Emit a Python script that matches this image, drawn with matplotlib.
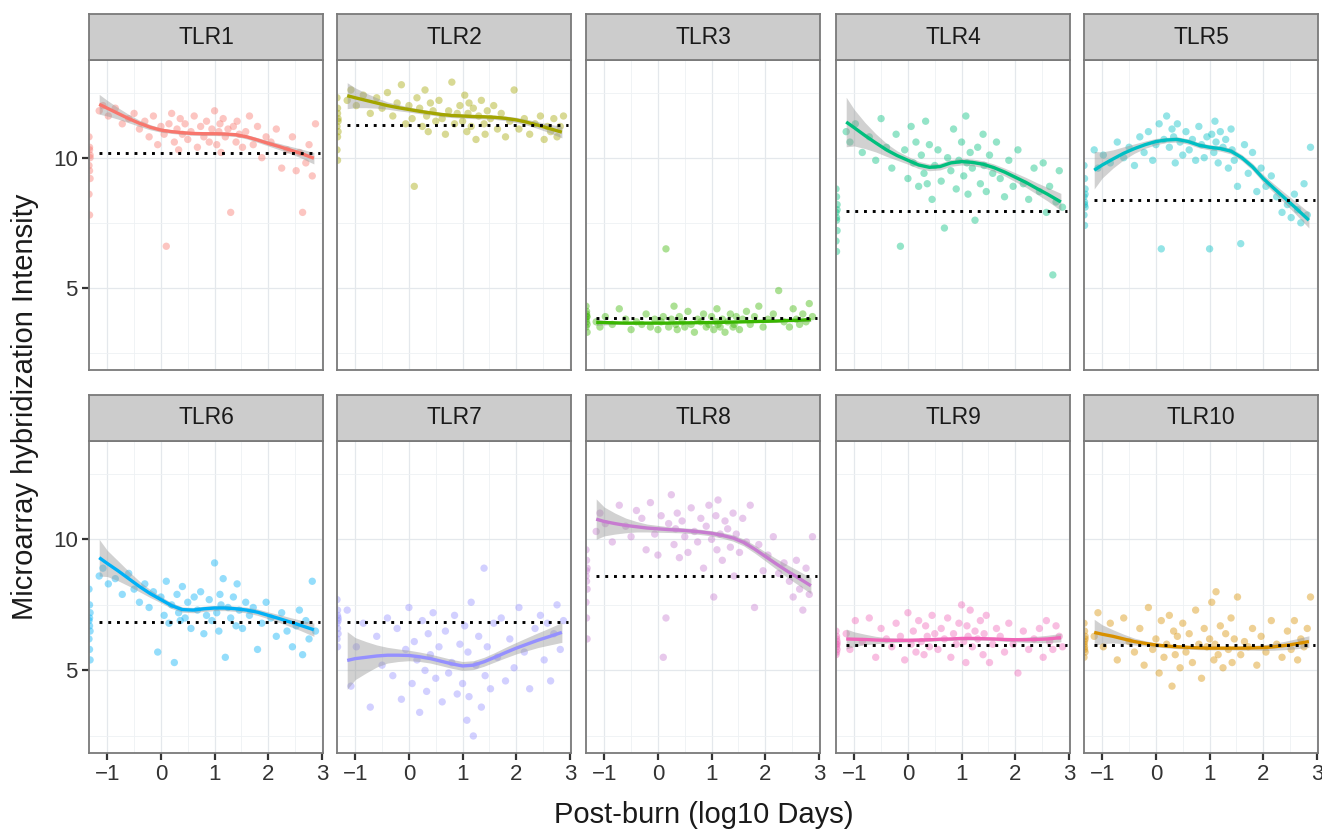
import matplotlib.pyplot as plt
import numpy as np

plt.rcParams["font.family"] = ["Liberation Sans", "DejaVu Sans"]

GENES = ["TLR1", "TLR2", "TLR3", "TLR4", "TLR5",
         "TLR6", "TLR7", "TLR8", "TLR9", "TLR10"]
COLORS = ["#F8766D", "#A3A500", "#39B600", "#00BF7D", "#00BFC4",
          "#00B0F6", "#9590FF", "#C77CD0", "#F066B8", "#D89000"]

# post-burn sample times (log10 days), shared by all genes
SAMPLE_X = [-1.15, -1.08, -0.98, -0.85, -0.72, -0.6, -0.5, -0.4,
            -0.3, -0.22, -0.14, -0.06, 0.0, 0.06, 0.1, 0.15,
            0.2, 0.25, 0.3, 0.33, 0.36, 0.4, 0.45, 0.5,
            0.56, 0.62, 0.68, 0.74, 0.8, 0.85, 0.9, 0.95,
            1.0, 1.04, 1.08, 1.1, 1.12, 1.16, 1.2, 1.25,
            1.3, 1.35, 1.4, 1.42, 1.46, 1.52, 1.58, 1.65,
            1.72, 1.8, 1.88, 1.96, 2.05, 2.15, 2.25, 2.35,
            2.45, 2.52, 2.58, 2.64, 2.7, 2.76, 2.82, 2.88]

TLR1_Y = [11.8, 12.0, 11.6, 11.9, 11.3, 11.5, 11.7, 11.1,
          11.4, 10.8, 11.6, 10.5, 11.2, 10.9, 6.6, 11.3,
          11.7, 10.6, 11.1, 10.3, 11.5, 10.9, 11.3, 10.7,
          11.0, 11.6, 10.4, 11.2, 10.8, 11.4, 10.6, 11.1,
          11.8, 10.5, 11.0, 11.3, 10.2, 11.5, 10.8, 11.1,
          7.9, 11.2, 10.6, 11.4, 10.9, 10.4, 11.0, 11.6,
          10.5, 11.2, 10.0, 10.8, 10.6, 11.1, 9.6, 10.3,
          10.8, 9.5, 10.2, 7.9, 9.8, 10.5, 9.3, 11.3]
TLR2_Y = [12.2, 12.6, 12.0, 12.4, 11.7, 12.3, 11.9, 12.5,
          11.6, 12.1, 12.8, 11.3, 12.0, 11.5, 8.9, 12.3,
          11.9, 11.2, 12.6, 11.6, 11.0, 12.1, 11.8, 11.4,
          12.2, 11.5, 10.9, 11.8, 12.9, 11.3, 11.7, 12.0,
          11.4, 12.4, 11.0, 11.7, 12.1, 11.2, 11.9, 10.7,
          11.6, 12.2, 11.3, 10.9, 11.8, 11.5, 12.0, 11.1,
          11.7, 10.8, 11.4, 12.6, 11.1, 11.5, 10.9, 11.3,
          11.6, 10.7, 11.2, 11.0, 11.5, 10.8, 11.2, 11.6]
TLR3_Y = [3.7, 3.5, 3.9, 3.6, 4.2, 3.8, 3.4, 3.7,
          3.6, 4.0, 3.5, 3.8, 3.4, 3.7, 3.9, 6.5,
          3.5, 3.8, 4.3, 3.6, 3.4, 3.9, 3.7, 3.5,
          4.1, 3.6, 3.3, 3.8, 3.7, 4.0, 3.5, 3.6,
          3.9, 3.4, 3.7, 4.2, 3.6, 3.5, 3.8, 3.3,
          3.7, 4.0, 3.5, 3.6, 3.9, 3.4, 3.8, 4.1,
          3.6, 3.9, 4.3, 3.5, 3.8, 4.0, 4.9, 3.7,
          3.5, 4.2, 3.8, 3.6, 4.0, 3.7, 4.4, 3.9]
TLR4_Y = [11.0, 10.6, 11.3, 10.2, 10.8, 9.9, 11.5, 10.4,
          9.6, 10.9, 6.6, 10.3, 9.2, 11.2, 9.8, 10.6,
          8.9, 10.1, 9.4, 11.4, 9.0, 10.5, 8.4, 9.7,
          10.3, 9.1, 7.3, 10.0, 9.5, 11.1, 8.8, 9.9,
          10.6, 9.3, 11.6, 9.8, 8.6, 10.2, 9.6, 7.6,
          10.4, 9.0, 10.9, 9.7, 8.7, 10.1, 9.4, 10.6,
          9.2, 8.5, 9.9, 8.9, 10.3, 9.0, 8.4, 9.6,
          8.7, 9.8, 7.9, 8.9, 5.5, 8.3, 9.5, 8.1]
TLR5_Y = [10.3, 9.6, 10.1, 9.8, 10.6, 10.0, 10.4, 9.7,
          10.8, 10.2, 11.0, 9.9, 10.5, 11.3, 6.5, 10.7,
          11.6, 10.4, 11.1, 10.8, 9.8, 11.3, 10.6, 10.1,
          11.0, 10.3, 10.7, 9.9, 11.2, 10.5, 10.0, 10.8,
          6.5, 10.9, 10.2, 11.4, 10.6, 9.8, 11.0, 10.4,
          10.7, 9.6, 11.1, 10.3, 9.9, 8.9, 6.7, 10.5,
          9.4, 10.2, 8.7, 9.6, 8.9, 9.3, 8.5, 7.9,
          8.2, 7.7, 8.6, 8.0, 7.5, 9.0, 7.8, 10.4]
TLR6_Y = [8.6, 8.9, 8.3, 8.5, 7.9, 8.7, 8.1, 7.6,
          8.3, 7.4, 8.0, 5.7, 7.8, 7.1, 8.4, 6.8,
          7.5, 5.3, 7.9, 7.2, 6.9, 8.2, 7.0, 7.6,
          6.6, 7.8, 7.3, 8.0, 6.4, 7.1, 7.7, 6.9,
          9.1, 7.2, 6.5, 7.9, 7.5, 8.5, 5.5, 7.4,
          7.0, 7.8, 6.7, 8.3, 7.3, 6.6, 7.6, 7.1,
          7.4, 5.8, 6.8, 7.6, 7.0, 6.3, 7.2, 6.5,
          5.9, 6.7, 7.3, 5.6, 6.9, 6.2, 8.4, 6.5]
TLR7_Y = [7.3, 4.4, 5.9, 6.8, 3.6, 6.3, 5.2, 7.0,
          4.8, 6.6, 3.9, 5.8, 7.4, 4.5, 6.1, 5.4,
          3.4, 6.9, 5.0, 4.2, 6.4, 5.6, 7.2, 4.7,
          5.9, 3.8, 6.5, 4.9, 5.3, 7.1, 4.1, 6.0,
          4.5, 6.7, 3.1, 5.7, 4.0, 7.6, 2.5, 5.2,
          6.3, 3.6, 8.9, 4.8, 5.9, 4.3, 6.8, 5.5,
          7.0, 4.6, 6.2, 5.1, 7.4, 5.7, 4.3, 6.6,
          7.1, 5.4, 6.8, 4.6, 6.4, 7.5, 5.8, 6.9]
TLR8_Y = [10.3, 11.0, 10.6, 9.9, 11.3, 10.5, 10.1, 11.1,
          10.8, 9.6, 11.4, 10.2, 9.4, 10.9, 5.5, 7.0,
          10.6, 11.7, 9.8, 10.4, 11.0, 9.3, 10.7, 10.1,
          9.5, 11.2, 10.3, 9.9, 10.8, 8.9, 10.5, 11.3,
          10.0, 7.8, 10.9, 9.6, 11.5, 10.2, 9.2, 10.7,
          10.4, 9.7, 11.0, 8.6, 10.2, 9.5, 10.8, 9.9,
          11.3, 7.4, 9.8, 8.8, 9.4, 10.1, 8.7, 9.1,
          8.4, 7.8, 9.2, 8.1, 7.3, 8.9, 7.9, 10.1]
TLR9_Y = [6.4, 5.8, 6.9, 6.1, 7.0, 5.5, 6.6, 6.2,
          5.9, 6.8, 6.3, 5.4, 7.2, 6.0, 6.5, 5.7,
          6.9, 6.1, 5.6, 6.7, 6.3, 5.9, 7.1, 6.4,
          5.8, 6.6, 6.2, 7.0, 5.5, 6.4, 6.0, 6.8,
          7.5, 6.1, 5.3, 6.7, 6.3, 7.3, 5.9, 6.5,
          6.2, 6.9, 5.6, 6.4, 7.1, 5.3, 6.0, 6.6,
          6.3, 5.7, 6.8, 6.0, 4.9, 6.5, 5.8, 6.2,
          6.6, 5.5, 6.9, 6.1, 5.8, 6.7, 6.3, 5.9]
TLR10_Y = [6.3, 7.2, 5.9, 6.8, 5.4, 7.0, 6.1, 5.7,
           6.6, 5.2, 7.4, 5.8, 6.2, 4.9, 6.9, 5.5,
           6.0, 7.1, 4.4, 6.5, 5.6, 6.3, 5.1, 6.8,
           5.7, 6.4, 5.3, 7.3, 6.0, 4.7, 6.6, 5.9,
           6.2, 7.6, 5.4, 6.0, 8.0, 5.6, 6.7, 5.1,
           6.4, 5.8, 7.0, 5.3, 6.2, 7.8, 5.6, 6.1,
           5.9, 6.6, 5.2, 6.3, 5.7, 6.9, 6.0, 5.5,
           6.5, 5.8, 6.9, 5.4, 6.2, 5.9, 6.6, 7.8]

# unburned controls, drawn at the left edge
CTRL_X = [-1.34, -1.33, -1.32, -1.34, -1.33, -1.32, -1.34, -1.33, -1.32, -1.33]
TLR1_CTRL = [10.8, 10.4, 10.1, 9.7, 10.3, 9.2, 8.6, 7.8, 10.0, 9.5]
TLR2_CTRL = [12.3, 11.9, 11.5, 11.2, 10.8, 11.4, 10.3, 9.9, 11.0, 11.7]
TLR3_CTRL = [4.3, 4.0, 3.9, 3.8, 3.7, 3.6, 3.5, 3.9, 3.3, 4.1]
TLR4_CTRL = [8.8, 8.5, 8.2, 7.9, 7.6, 7.2, 6.8, 6.4, 8.0, 7.7]
TLR5_CTRL = [9.7, 9.2, 8.8, 8.5, 8.3, 8.1, 7.8, 7.4, 8.6, 8.2]
TLR6_CTRL = [8.1, 7.5, 7.2, 6.9, 6.7, 6.5, 6.2, 5.8, 5.4, 7.0]
TLR7_CTRL = [7.7, 7.3, 7.0, 6.8, 6.6, 6.4, 6.2, 5.9, 6.9, 7.1]
TLR8_CTRL = [9.6, 9.2, 8.9, 8.6, 8.4, 8.1, 7.6, 7.0, 6.2, 8.8]
TLR9_CTRL = [6.5, 6.3, 6.1, 6.0, 5.9, 5.8, 5.6, 6.2, 6.0, 5.7]
TLR10_CTRL = [6.8, 6.5, 6.2, 6.0, 5.9, 5.7, 5.5, 6.1, 6.3, 5.8]
CTRL_MEAN = [10.19, 11.25, 3.83, 7.95, 8.37, 6.85, 6.85, 8.6, 5.97, 5.97]

# loess fit, with half width of the grey band
SMOOTH_X = [-1.15, -1.0, -0.8, -0.6, -0.4, -0.2, 0.0, 0.2, 0.4, 0.6, 0.8,
            1.0, 1.2, 1.4, 1.6, 1.8, 2.0, 2.2, 2.4, 2.6, 2.85]
TLR1_FIT = [12.05, 11.9, 11.7, 11.5, 11.32, 11.17, 11.06, 11.0, 10.96, 10.93, 10.92,
            10.92, 10.91, 10.88, 10.8, 10.68, 10.55, 10.43, 10.3, 10.17, 9.98]
TLR2_FIT = [12.38, 12.3, 12.2, 12.1, 12.0, 11.92, 11.85, 11.78, 11.72, 11.66, 11.62,
            11.6, 11.58, 11.57, 11.55, 11.51, 11.45, 11.36, 11.25, 11.13, 10.98]
TLR3_FIT = [3.68, 3.67, 3.66, 3.65, 3.65, 3.65, 3.65, 3.65, 3.66, 3.66, 3.67,
            3.67, 3.68, 3.69, 3.7, 3.71, 3.72, 3.73, 3.75, 3.76, 3.78]
TLR4_FIT = [11.37, 11.15, 10.85, 10.57, 10.3, 10.08, 9.9, 9.72, 9.63, 9.66, 9.8,
            9.85, 9.82, 9.75, 9.62, 9.45, 9.25, 9.05, 8.82, 8.6, 8.3]
TLR5_FIT = [9.52, 9.72, 9.95, 10.17, 10.35, 10.5, 10.62, 10.68, 10.7, 10.62, 10.48,
            10.4, 10.35, 10.25, 10.0, 9.65, 9.2, 8.82, 8.45, 8.08, 7.6]
TLR6_FIT = [9.3, 9.08, 8.8, 8.5, 8.2, 7.93, 7.7, 7.47, 7.32, 7.3, 7.35,
            7.38, 7.38, 7.35, 7.3, 7.22, 7.1, 6.98, 6.85, 6.72, 6.55]
TLR7_FIT = [5.38, 5.45, 5.5, 5.55, 5.58, 5.58, 5.57, 5.52, 5.45, 5.35, 5.25,
            5.17, 5.2, 5.33, 5.5, 5.68, 5.85, 6.0, 6.15, 6.28, 6.45]
TLR8_FIT = [10.77, 10.68, 10.6, 10.53, 10.48, 10.43, 10.4, 10.37, 10.35, 10.32, 10.28,
            10.23, 10.15, 10.05, 9.88, 9.63, 9.35, 9.07, 8.8, 8.55, 8.23]
TLR9_FIT = [6.2, 6.19, 6.18, 6.16, 6.15, 6.15, 6.15, 6.16, 6.17, 6.19, 6.2,
            6.22, 6.22, 6.21, 6.2, 6.18, 6.17, 6.17, 6.18, 6.2, 6.25]
TLR10_FIT = [6.45, 6.38, 6.3, 6.2, 6.1, 6.03, 5.97, 5.93, 5.9, 5.88, 5.86,
             5.85, 5.85, 5.85, 5.85, 5.86, 5.87, 5.9, 5.95, 6.01, 6.1]

TLR1_SE = [0.38, 0.3, 0.22, 0.16, 0.12, 0.1, 0.08, 0.07, 0.07, 0.07, 0.07,
           0.07, 0.07, 0.07, 0.08, 0.09, 0.1, 0.12, 0.14, 0.17, 0.22]
TLR2_SE = [0.5, 0.38, 0.28, 0.2, 0.14, 0.12, 0.1, 0.09, 0.08, 0.08, 0.08,
           0.08, 0.08, 0.08, 0.08, 0.09, 0.1, 0.11, 0.13, 0.16, 0.22]
TLR3_SE = [0.12, 0.09, 0.06, 0.05, 0.04, 0.04, 0.03, 0.03, 0.03, 0.03, 0.03,
           0.03, 0.03, 0.03, 0.03, 0.04, 0.04, 0.05, 0.05, 0.06, 0.07]
TLR4_SE = [0.95, 0.7, 0.5, 0.35, 0.25, 0.18, 0.15, 0.14, 0.13, 0.13, 0.13,
           0.13, 0.13, 0.13, 0.14, 0.15, 0.17, 0.19, 0.22, 0.26, 0.33]
TLR5_SE = [0.72, 0.5, 0.35, 0.25, 0.18, 0.14, 0.12, 0.1, 0.1, 0.1, 0.1,
           0.1, 0.1, 0.11, 0.12, 0.13, 0.15, 0.17, 0.2, 0.24, 0.3]
TLR6_SE = [0.7, 0.5, 0.38, 0.28, 0.2, 0.15, 0.12, 0.11, 0.1, 0.1, 0.1,
           0.1, 0.1, 0.1, 0.11, 0.12, 0.13, 0.15, 0.17, 0.2, 0.25]
TLR7_SE = [1.1, 0.8, 0.6, 0.42, 0.3, 0.24, 0.2, 0.18, 0.17, 0.17, 0.17,
           0.17, 0.17, 0.17, 0.18, 0.2, 0.22, 0.25, 0.28, 0.32, 0.38]
TLR8_SE = [0.77, 0.55, 0.4, 0.28, 0.2, 0.15, 0.13, 0.11, 0.1, 0.1, 0.1,
           0.1, 0.11, 0.12, 0.13, 0.15, 0.17, 0.2, 0.24, 0.27, 0.3]
TLR9_SE = [0.38, 0.28, 0.2, 0.14, 0.1, 0.08, 0.07, 0.06, 0.06, 0.06, 0.06,
           0.06, 0.06, 0.06, 0.06, 0.07, 0.08, 0.1, 0.12, 0.14, 0.16]
TLR10_SE = [0.5, 0.36, 0.25, 0.18, 0.13, 0.1, 0.08, 0.07, 0.07, 0.07, 0.07,
            0.07, 0.07, 0.07, 0.08, 0.09, 0.11, 0.13, 0.16, 0.19, 0.22]

POINTS = [TLR1_Y, TLR2_Y, TLR3_Y, TLR4_Y, TLR5_Y,
          TLR6_Y, TLR7_Y, TLR8_Y, TLR9_Y, TLR10_Y]
CONTROLS = [TLR1_CTRL, TLR2_CTRL, TLR3_CTRL, TLR4_CTRL, TLR5_CTRL,
            TLR6_CTRL, TLR7_CTRL, TLR8_CTRL, TLR9_CTRL, TLR10_CTRL]
FITS = [TLR1_FIT, TLR2_FIT, TLR3_FIT, TLR4_FIT, TLR5_FIT,
        TLR6_FIT, TLR7_FIT, TLR8_FIT, TLR9_FIT, TLR10_FIT]
SES = [TLR1_SE, TLR2_SE, TLR3_SE, TLR4_SE, TLR5_SE,
       TLR6_SE, TLR7_SE, TLR8_SE, TLR9_SE, TLR10_SE]

W, H = 1322, 830
COL_LEFT = [89, 337, 586, 836, 1084]
PANEL_W = 234
ROW_TOP = [60, 441]      # top of plotting area (px)
ROW_BOT = [370, 753]
STRIP_H = 46

XLIM = (-1.34, 3.02)
YLIM = (1.85, 13.75)
BORDER = "#7a7a7a"
TXT = "#333333"

fig = plt.figure(figsize=(W / 100, H / 100), dpi=100)

for i, gene in enumerate(GENES):
    row, col = divmod(i, 5)
    left = COL_LEFT[col] / W
    top, bot = ROW_TOP[row], ROW_BOT[row]
    ax = fig.add_axes([left, 1 - bot / H, PANEL_W / W, (bot - top) / H])
    color = COLORS[i]

    ax.set_xlim(*XLIM)
    ax.set_ylim(*YLIM)
    ax.set_xticks([-1, 0, 1, 2, 3])
    ax.set_xticks([-0.5, 0.5, 1.5, 2.5], minor=True)
    ax.set_yticks([5, 10])
    ax.set_yticks([2.5, 7.5, 12.5], minor=True)
    ax.grid(True, which="major", color="#E4E8EC", linewidth=0.9)
    ax.grid(True, which="minor", color="#EEF1F4", linewidth=0.6)
    ax.set_axisbelow(True)
    ax.tick_params(which="minor", length=0)
    ax.tick_params(which="major", length=5, width=1.6, color=TXT,
                   labelsize=16, labelcolor=TXT, pad=3)
    if col != 0:
        ax.tick_params(left=False, labelleft=False)
    if row == 0:
        ax.tick_params(bottom=False, labelbottom=False)
    for sp in ax.spines.values():
        sp.set_color(BORDER)
        sp.set_linewidth(1.3)

    ax.scatter(SAMPLE_X, POINTS[i], s=28, color=color, alpha=0.42,
               edgecolors="none", zorder=2)
    ax.scatter(CTRL_X, CONTROLS[i], s=28, color=color, alpha=0.42,
               edgecolors="none", zorder=2)

    fit = np.array(FITS[i])
    se = np.array(SES[i])
    ax.fill_between(SMOOTH_X, fit - se, fit + se, color="#999999",
                    alpha=0.45, linewidth=0, zorder=3)
    ax.plot(SMOOTH_X, fit, color=color, linewidth=2.4,
            solid_capstyle="butt", zorder=4)
    ax.plot([-1.16, 2.97], [CTRL_MEAN[i]] * 2, color="black",
            linewidth=2.1, linestyle=(0, (1, 2)), zorder=5)

    # facet strip
    sax = fig.add_axes([left, 1 - top / H, PANEL_W / W, STRIP_H / H])
    sax.set_facecolor("#CCCCCC")
    sax.set_xticks([])
    sax.set_yticks([])
    for sp in sax.spines.values():
        sp.set_color(BORDER)
        sp.set_linewidth(1.3)
    sax.text(0.5, 0.5, gene, ha="center", va="center", fontsize=16.5,
             color="#1A1A1A", transform=sax.transAxes)

fig.text((COL_LEFT[0] + COL_LEFT[-1] + PANEL_W) / 2 / W, 1 - 815 / H,
         "Post-burn (log10 Days)", ha="center", va="center", fontsize=21,
         color="#1A1A1A")
fig.text(25 / W, 1 - (ROW_TOP[0] + ROW_BOT[1]) / 2 / H,
         "Microarray hybridization Intensity", ha="center", va="center",
         rotation=90, fontsize=21, color="#1A1A1A")

fig.savefig("out.png", dpi=100)
